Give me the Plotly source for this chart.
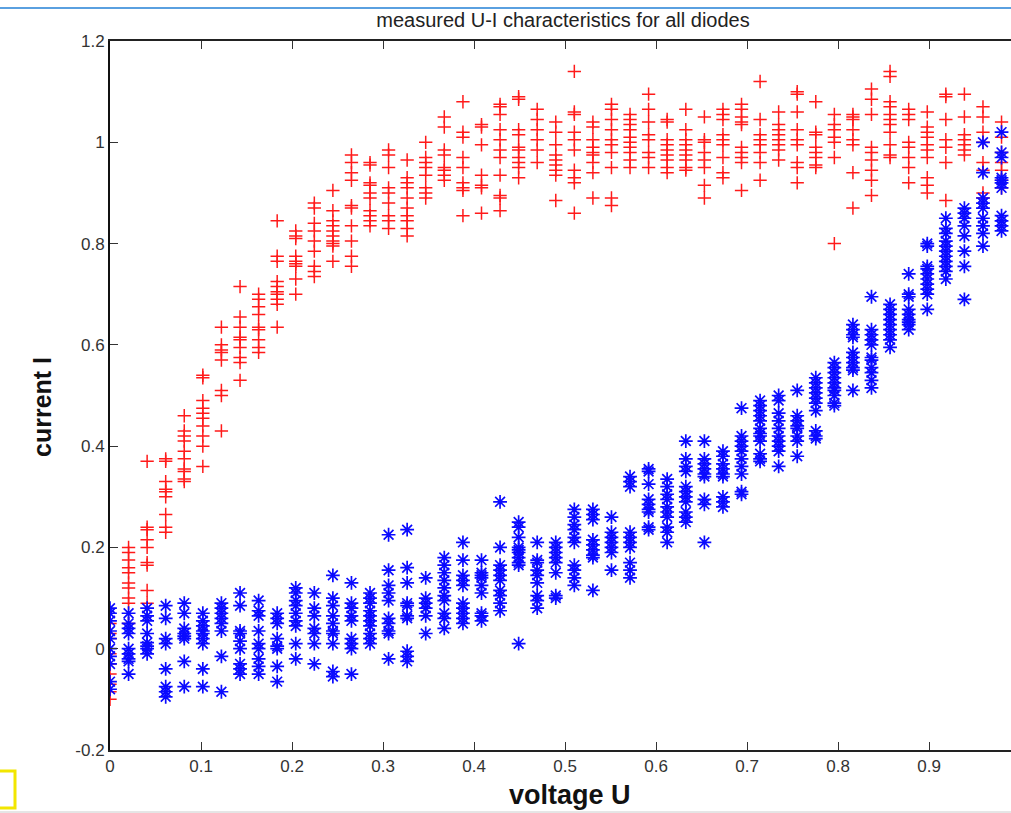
import plotly.graph_objects as go

# Measured U-I characteristics: voltage grid and current readings per voltage step
voltage = [0.0, 0.0204, 0.0408, 0.0612, 0.0816, 0.1020, 0.1224, 0.1429, 0.1633, 0.1837,
           0.2041, 0.2245, 0.2449, 0.2653, 0.2857, 0.3061, 0.3265, 0.3469, 0.3673, 0.3878,
           0.4082, 0.4286, 0.4490, 0.4694, 0.4898, 0.5102, 0.5306, 0.5510, 0.5714, 0.5918,
           0.6122, 0.6327, 0.6531, 0.6735, 0.6939, 0.7143, 0.7347, 0.7551, 0.7755, 0.7959,
           0.8163, 0.8367, 0.8571, 0.8776, 0.8980, 0.9184, 0.9388, 0.9592, 0.9796]

# diode group A (red '+')
current_a = [
    [0.05, 0.03, 0.02, -0.01, -0.03, -0.05, -0.07, -0.085, -0.10],
    [0.20, 0.19, 0.175, 0.16, 0.15, 0.13, 0.12, 0.10, 0.09, 0.05],
    [0.37, 0.24, 0.235, 0.215, 0.20, 0.17, 0.165, 0.115, 0.09],
    [0.375, 0.37, 0.33, 0.315, 0.31, 0.30, 0.265, 0.24, 0.23],
    [0.46, 0.43, 0.42, 0.41, 0.39, 0.375, 0.355, 0.35, 0.335, 0.33],
    [0.54, 0.535, 0.49, 0.475, 0.465, 0.455, 0.44, 0.42, 0.40, 0.36],
    [0.635, 0.60, 0.59, 0.585, 0.57, 0.51, 0.50, 0.43],
    [0.715, 0.655, 0.635, 0.615, 0.61, 0.595, 0.575, 0.565, 0.53],
    [0.70, 0.69, 0.675, 0.66, 0.635, 0.63, 0.61, 0.595, 0.585],
    [0.845, 0.775, 0.765, 0.725, 0.715, 0.705, 0.70, 0.69, 0.68, 0.635],
    [0.825, 0.815, 0.81, 0.775, 0.765, 0.76, 0.755, 0.73, 0.70],
    [0.88, 0.87, 0.84, 0.825, 0.805, 0.785, 0.755, 0.745, 0.735],
    [0.905, 0.865, 0.845, 0.835, 0.825, 0.815, 0.805, 0.80, 0.795, 0.765],
    [0.975, 0.96, 0.94, 0.925, 0.875, 0.87, 0.835, 0.805, 0.775, 0.755],
    [0.96, 0.955, 0.92, 0.915, 0.90, 0.89, 0.865, 0.855, 0.845, 0.835],
    [0.985, 0.975, 0.95, 0.91, 0.90, 0.88, 0.855, 0.845, 0.83],
    [0.965, 0.93, 0.92, 0.91, 0.89, 0.87, 0.855, 0.845, 0.83, 0.815],
    [1.0, 0.97, 0.96, 0.95, 0.935, 0.91, 0.90, 0.89],
    [1.05, 1.03, 0.985, 0.975, 0.95, 0.945, 0.935, 0.925],
    [1.08, 1.02, 1.01, 0.97, 0.95, 0.92, 0.91, 0.905, 0.855],
    [1.035, 1.03, 0.995, 0.935, 0.915, 0.91, 0.86],
    [1.075, 1.07, 1.055, 1.025, 1.005, 0.985, 0.97, 0.935, 0.895, 0.89, 0.865],
    [1.09, 1.085, 1.025, 1.015, 0.99, 0.985, 0.97, 0.96, 0.95, 0.93],
    [1.065, 1.045, 1.025, 1.005, 0.985, 0.96],
    [1.04, 1.02, 0.995, 0.975, 0.965, 0.955, 0.945, 0.935, 0.885],
    [1.14, 1.06, 1.055, 1.02, 1.005, 0.985, 0.945, 0.93, 0.92, 0.86],
    [1.04, 1.03, 1.005, 0.99, 0.98, 0.975, 0.96, 0.94, 0.89],
    [1.075, 1.065, 1.045, 1.025, 1.005, 0.995, 0.98, 0.95, 0.89, 0.875],
    [1.055, 1.045, 1.035, 1.025, 1.01, 1.0, 0.99, 0.98, 0.965, 0.95],
    [1.095, 1.065, 1.04, 1.015, 1.005, 0.98, 0.97, 0.95],
    [1.045, 1.04, 1.005, 0.995, 0.985, 0.975, 0.965, 0.95, 0.94],
    [1.065, 1.025, 1.005, 0.995, 0.985, 0.975, 0.965, 0.95, 0.945],
    [1.05, 1.005, 1.0, 0.98, 0.965, 0.95, 0.915, 0.89],
    [1.065, 1.055, 1.045, 1.015, 1.005, 0.995, 0.97, 0.94, 0.93],
    [1.075, 1.065, 1.05, 1.04, 1.035, 0.99, 0.98, 0.97, 0.96, 0.905],
    [1.12, 1.045, 1.015, 1.005, 0.995, 0.98, 0.96, 0.925],
    [1.06, 1.035, 1.025, 1.015, 1.005, 0.995, 0.985, 0.965],
    [1.10, 1.095, 1.06, 1.025, 1.005, 0.995, 0.96, 0.95, 0.92],
    [1.08, 1.02, 1.015, 0.99, 0.98, 0.97, 0.955, 0.95],
    [1.055, 1.035, 1.025, 1.01, 1.0, 0.97, 0.80],
    [1.055, 1.05, 1.045, 1.025, 1.005, 0.995, 0.94, 0.87],
    [1.105, 1.085, 1.055, 0.99, 0.98, 0.965, 0.945, 0.925, 0.895],
    [1.14, 1.13, 1.08, 1.07, 1.055, 1.045, 1.035, 1.02, 0.995, 0.975, 0.97],
    [1.065, 1.055, 1.045, 1.0, 0.99, 0.97, 0.95, 0.92],
    [1.06, 1.03, 1.02, 1.01, 0.995, 0.985, 0.97, 0.93, 0.915, 0.90],
    [1.095, 1.09, 1.045, 1.005, 0.99, 0.96, 0.885],
    [1.095, 1.05, 1.015, 1.005, 0.995, 0.985, 0.975],
    [1.07, 1.05, 1.02, 1.0, 0.96, 0.945, 0.90, 0.89],
    [1.04, 1.01, 0.98, 0.96, 0.945, 0.925, 0.91],
]

# diode group B (blue '*')
current_b = [
    [0.08, 0.07, 0.055, 0.035, 0.02, 0.0, -0.015, -0.03, -0.065, -0.08],
    [0.07, 0.05, 0.04, 0.03, 0.0, -0.01, -0.02, -0.025, -0.05],
    [0.08, 0.065, 0.055, 0.03, 0.012, 0.005, 0.0, -0.01],
    [0.085, 0.06, 0.02, 0.01, -0.04, -0.075, -0.085, -0.095],
    [0.09, 0.07, 0.04, 0.03, 0.025, 0.02, -0.025, -0.075],
    [0.07, 0.055, 0.045, 0.035, 0.03, 0.02, 0.01, -0.04, -0.075],
    [0.09, 0.08, 0.07, 0.06, 0.05, 0.035, -0.015, -0.085],
    [0.11, 0.085, 0.035, 0.03, 0.015, 0.0, -0.03, -0.04, -0.05],
    [0.095, 0.075, 0.065, 0.035, 0.01, 0.0, -0.02, -0.035, -0.05],
    [0.07, 0.06, 0.05, 0.02, 0.005, 0.0, -0.035, -0.065],
    [0.12, 0.11, 0.095, 0.085, 0.07, 0.055, 0.045, 0.01, -0.02],
    [0.11, 0.08, 0.065, 0.04, 0.03, 0.01, -0.03],
    [0.145, 0.10, 0.085, 0.065, 0.05, 0.035, 0.03, 0.01, -0.045, -0.055],
    [0.13, 0.09, 0.08, 0.065, 0.055, 0.02, 0.01, 0.0, -0.05],
    [0.11, 0.10, 0.09, 0.075, 0.065, 0.055, 0.045, 0.03, 0.02, 0.01],
    [0.225, 0.155, 0.125, 0.11, 0.095, 0.06, 0.05, 0.035, 0.03, -0.02],
    [0.235, 0.16, 0.13, 0.09, 0.085, 0.065, 0.06, -0.005, -0.015, -0.025],
    [0.14, 0.10, 0.09, 0.08, 0.065, 0.03],
    [0.18, 0.165, 0.15, 0.135, 0.12, 0.105, 0.095, 0.07, 0.06, 0.04],
    [0.21, 0.175, 0.145, 0.135, 0.125, 0.09, 0.08, 0.07, 0.06, 0.05],
    [0.175, 0.15, 0.145, 0.14, 0.125, 0.11, 0.07, 0.065, 0.055],
    [0.29, 0.20, 0.165, 0.155, 0.145, 0.135, 0.115, 0.105, 0.09, 0.075],
    [0.25, 0.24, 0.22, 0.20, 0.195, 0.19, 0.18, 0.17, 0.165, 0.01],
    [0.21, 0.175, 0.17, 0.155, 0.145, 0.13, 0.105, 0.095, 0.08],
    [0.21, 0.20, 0.19, 0.18, 0.17, 0.15, 0.105, 0.10],
    [0.275, 0.26, 0.245, 0.235, 0.22, 0.21, 0.165, 0.155, 0.14, 0.125],
    [0.275, 0.265, 0.255, 0.215, 0.205, 0.195, 0.185, 0.18, 0.115],
    [0.26, 0.23, 0.22, 0.21, 0.20, 0.19, 0.155],
    [0.34, 0.33, 0.32, 0.23, 0.22, 0.21, 0.20, 0.17, 0.155, 0.14],
    [0.355, 0.35, 0.325, 0.295, 0.285, 0.275, 0.27, 0.24, 0.235],
    [0.335, 0.32, 0.305, 0.295, 0.28, 0.27, 0.26, 0.24, 0.23, 0.21],
    [0.41, 0.375, 0.36, 0.35, 0.32, 0.31, 0.30, 0.29, 0.27, 0.26, 0.25],
    [0.41, 0.375, 0.365, 0.355, 0.345, 0.34, 0.295, 0.285, 0.21],
    [0.39, 0.38, 0.365, 0.355, 0.345, 0.34, 0.30, 0.29, 0.28],
    [0.475, 0.42, 0.41, 0.40, 0.39, 0.375, 0.36, 0.345, 0.31, 0.305],
    [0.49, 0.48, 0.47, 0.46, 0.45, 0.435, 0.425, 0.42, 0.41, 0.385, 0.375, 0.37],
    [0.50, 0.49, 0.465, 0.45, 0.435, 0.42, 0.41, 0.40, 0.39, 0.36],
    [0.51, 0.46, 0.45, 0.44, 0.435, 0.42, 0.41, 0.38],
    [0.535, 0.525, 0.515, 0.505, 0.495, 0.485, 0.47, 0.43, 0.42, 0.415],
    [0.565, 0.555, 0.545, 0.535, 0.525, 0.515, 0.51, 0.50, 0.485, 0.48],
    [0.64, 0.63, 0.62, 0.615, 0.585, 0.575, 0.565, 0.555, 0.55, 0.51],
    [0.695, 0.63, 0.62, 0.61, 0.60, 0.575, 0.57, 0.555, 0.545, 0.53, 0.515],
    [0.68, 0.67, 0.66, 0.65, 0.64, 0.63, 0.62, 0.61, 0.595],
    [0.74, 0.70, 0.695, 0.67, 0.66, 0.65, 0.645, 0.64, 0.63],
    [0.80, 0.795, 0.755, 0.75, 0.74, 0.73, 0.72, 0.71, 0.70, 0.67],
    [0.85, 0.83, 0.82, 0.805, 0.795, 0.785, 0.775, 0.765, 0.755, 0.745, 0.73],
    [0.87, 0.86, 0.85, 0.835, 0.815, 0.785, 0.755, 0.69],
    [1.0, 0.94, 0.89, 0.88, 0.87, 0.85, 0.835, 0.82, 0.795],
    [1.02, 0.98, 0.97, 0.93, 0.925, 0.92, 0.91, 0.855, 0.845, 0.835, 0.825],
]

x_ticks = [0.0, 0.1, 0.2, 0.3, 0.4, 0.5, 0.6, 0.7, 0.8, 0.9]
x_tick_text = ["0", "0.1", "0.2", "0.3", "0.4", "0.5", "0.6", "0.7", "0.8", "0.9"]
y_ticks = [-0.2, 0.0, 0.2, 0.4, 0.6, 0.8, 1.0, 1.2]
y_tick_text = ["-0.2", "0", "0.2", "0.4", "0.6", "0.8", "1", "1.2"]


def flatten(grid, readings):
    xs, ys = [], []
    for u, column in zip(grid, readings):
        for i in column:
            xs.append(u)
            ys.append(i)
    return xs, ys


xa, ya = flatten(voltage, current_a)
xb, yb = flatten(voltage, current_b)

W, H = 1011, 813
ML, MR, MT, MB = 110, 0, 41, 63

fig = go.Figure()
fig.add_trace(go.Scatter(
    x=xa, y=ya, mode="markers",
    marker=dict(symbol="cross-thin", size=9.5, color="#ff0000",
                line=dict(color="#ff1a1a", width=1.5)),
    showlegend=False, cliponaxis=True,
))
fig.add_trace(go.Scatter(
    x=xb, y=yb, mode="markers",
    marker=dict(symbol="asterisk", size=11.5, color="#0000ff",
                line=dict(color="#0a0aff", width=1.7)),
    showlegend=False, cliponaxis=True,
))

font_family = "Liberation Sans, Arial, Helvetica, sans-serif"

pw = W - ML - MR
ph = H - MT - MB
def px_x(p):
    return (p - ML) / pw
def px_y(p):
    return (H - MB - p) / ph

fig.update_layout(
    width=W, height=H,
    margin=dict(l=ML, r=MR, t=MT, b=MB, pad=0),
    paper_bgcolor="white", plot_bgcolor="white",
    font=dict(family=font_family, color="#1a1a1a"),
    title=dict(text="measured U-I characteristics for all diodes",
               x=px_x(563), xref="paper", xanchor="center",
               y=1 - 20 / H, yanchor="middle",
               font=dict(size=20, family=font_family, color="#222222")),
    xaxis=dict(
        range=[0, 0.99], showgrid=False, zeroline=False,
        tickmode="array", tickvals=x_ticks, ticktext=x_tick_text,
        ticks="inside", ticklen=8, tickwidth=1.2, tickcolor="#333333",
        showline=True, linecolor="#222222", linewidth=2, mirror="ticks",
        tickfont=dict(size=17, color="#333333"),
    ),
    yaxis=dict(
        range=[-0.2, 1.2], showgrid=False, zeroline=False,
        tickmode="array", tickvals=y_ticks, ticktext=y_tick_text,
        ticks="inside", ticklen=8, tickwidth=1.2, tickcolor="#333333",
        showline=True, linecolor="#111111", linewidth=2,
        tickfont=dict(size=17, color="#333333"),
    ),
)

# axis titles
fig.add_annotation(text="<b>voltage U</b>", xref="paper", yref="paper",
                   x=px_x(570), y=px_y(795), xanchor="center", yanchor="middle",
                   showarrow=False, font=dict(size=27, color="#111111"))
fig.add_annotation(text="<b>current I</b>", xref="paper", yref="paper",
                   x=px_x(42), y=px_y(407), xanchor="center", yanchor="middle",
                   textangle=-90, showarrow=False, font=dict(size=25, color="#111111"))

# window frame details: thin blue rule along the top, grey rule along the bottom
fig.add_shape(type="line", xref="paper", yref="paper",
              x0=px_x(0), x1=px_x(W), y0=px_y(8), y1=px_y(8),
              line=dict(color="#5aa0e0", width=2))
fig.add_shape(type="line", xref="paper", yref="paper",
              x0=px_x(0), x1=px_x(W), y0=px_y(812), y1=px_y(812),
              line=dict(color="#cccccc", width=1))
fig.add_shape(type="rect", xref="paper", yref="paper",
              x0=px_x(-4), x1=px_x(15), y0=px_y(771), y1=px_y(808),
              line=dict(color="#f2e600", width=3), fillcolor="rgba(0,0,0,0)")

fig.write_html("out.html")
